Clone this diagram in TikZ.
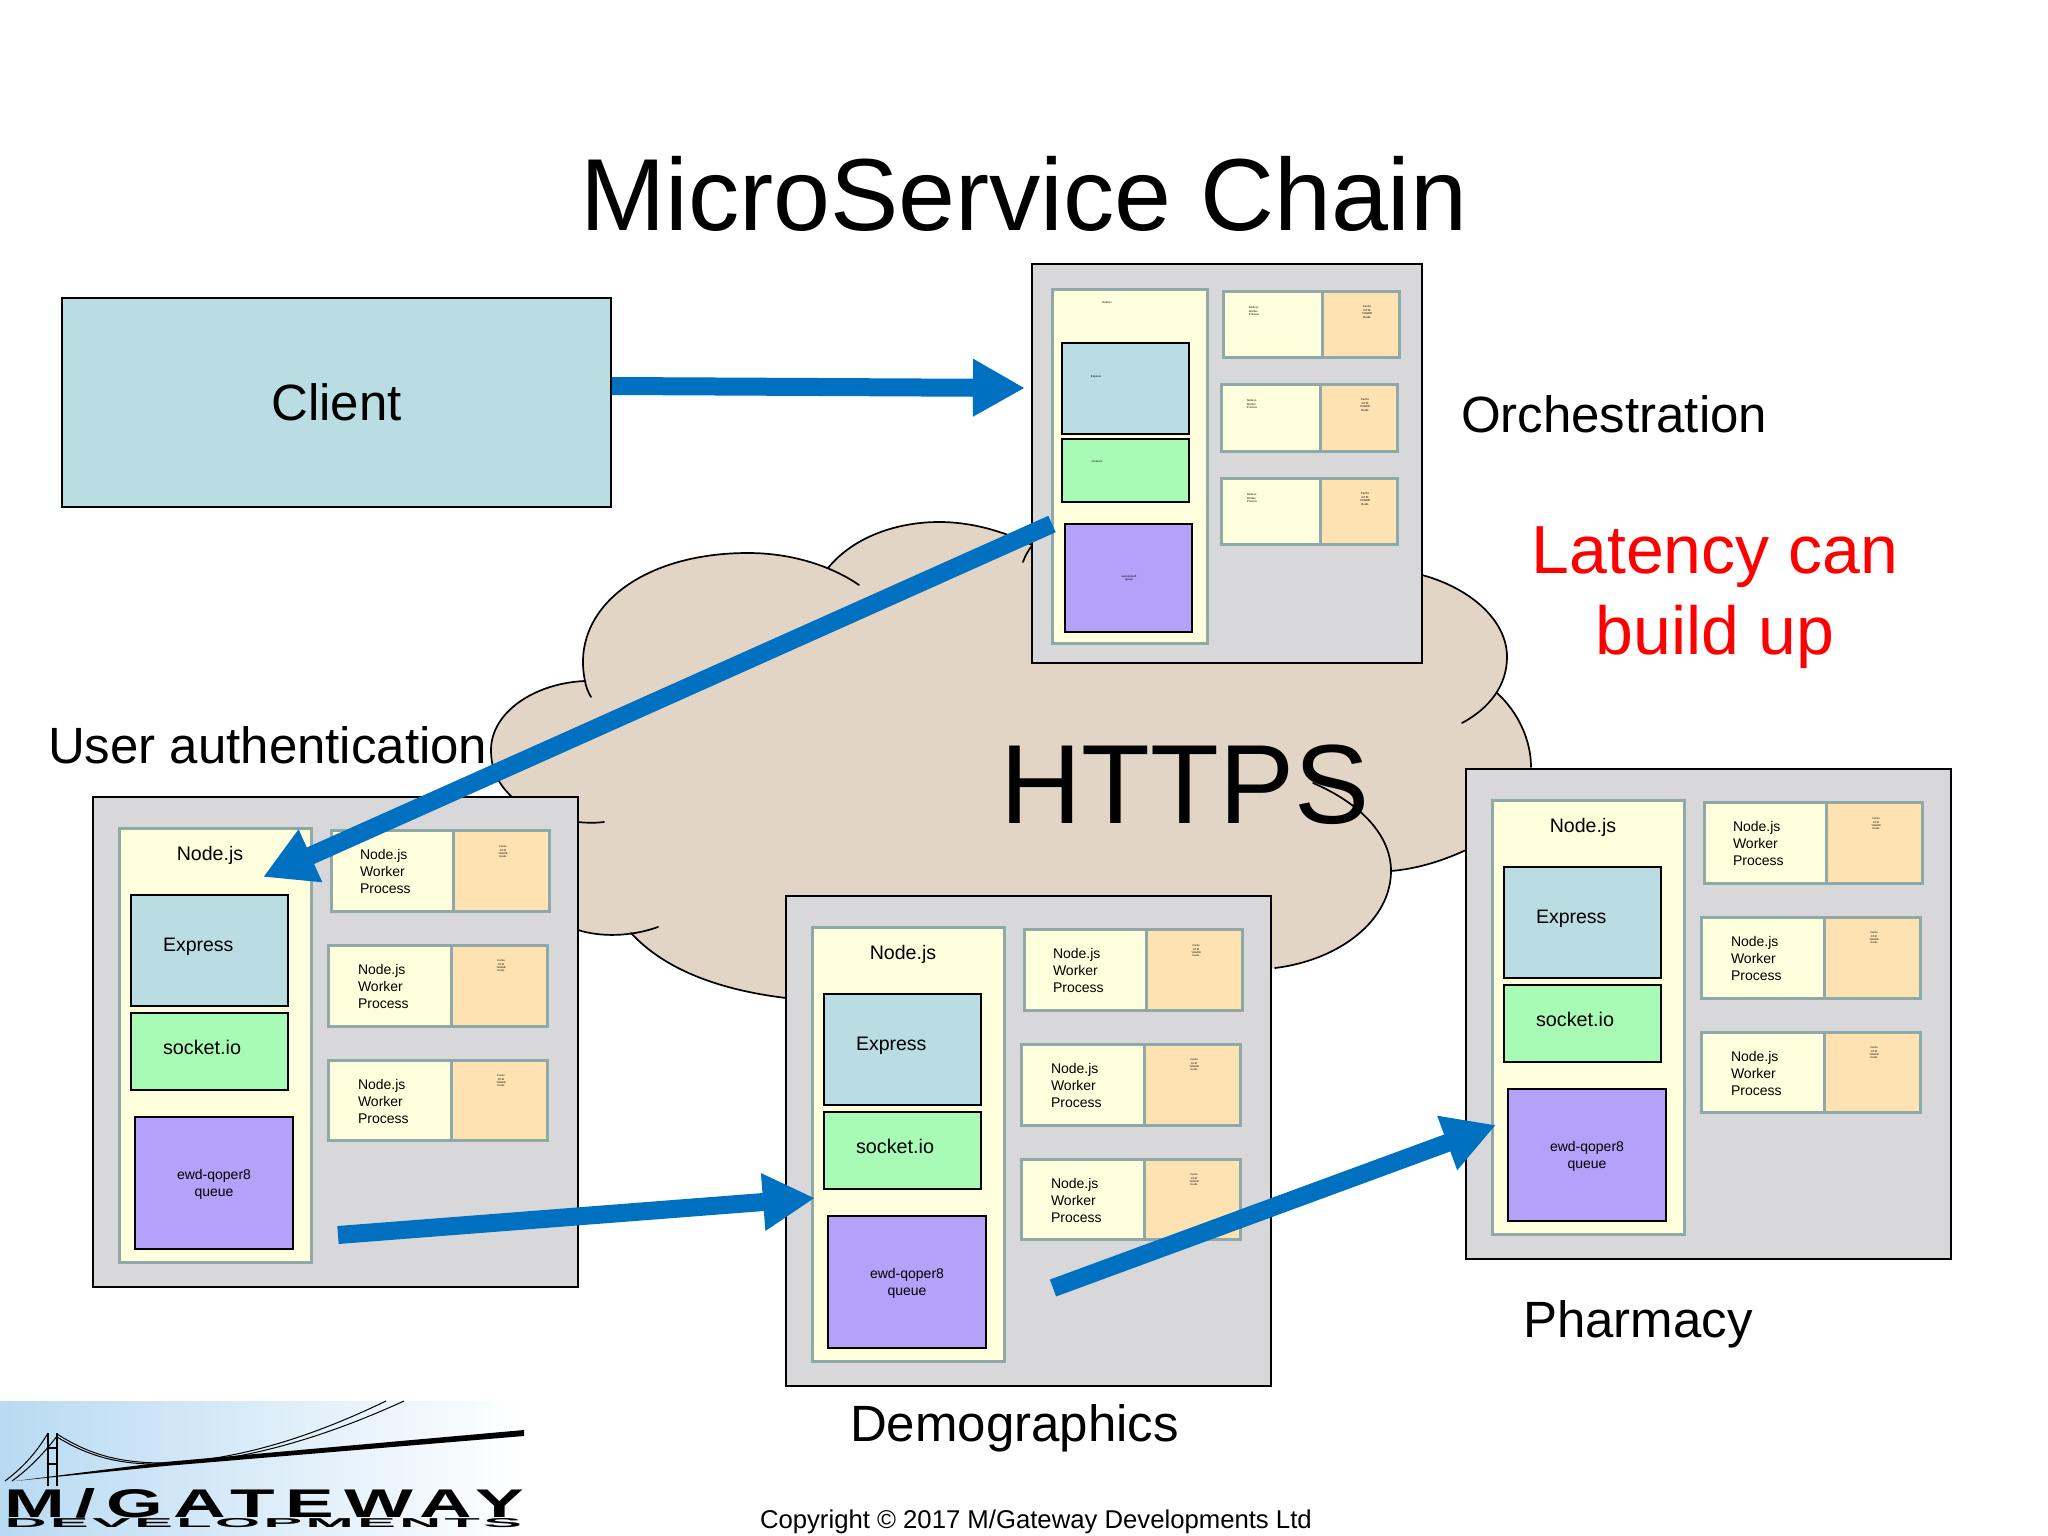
\documentclass[tikz,border=0pt]{standalone}
\usepackage{fontspec}
\usepackage{graphicx}
\setmainfont{Liberation Sans}
\newfontfamily\logofont[LetterSpace=14]{Liberation Sans Bold}
\newfontfamily\logofontb[LetterSpace=6]{Liberation Sans Bold}
\usetikzlibrary{arrows.meta}
\definecolor{panelc}{HTML}{D8D8DA}
\definecolor{mainc}{HTML}{FFFFDD}
\definecolor{edgec}{HTML}{8FA8A8}
\definecolor{expc}{HTML}{B9DDE2}
\definecolor{sockc}{HTML}{A8FBB5}
\definecolor{queuec}{HTML}{B5A0FA}
\definecolor{cachec}{HTML}{FFE2B2}
\definecolor{flowc}{HTML}{0070C0}
\definecolor{cloudc}{HTML}{E3D5C6}
\definecolor{logoc}{HTML}{B8DAF2}
\newcommand{\fz}[2]{\fontsize{#1}{#2}\selectfont}
\newcommand{\bxn}[6]{\node[#2,anchor=north west,minimum width={(#5-#3)*1pt},minimum height={(#6-#4)*1pt}] (#1) at (#3,#4) {};}
\newcommand{\txn}[5]{\node[txt,#2] (#1) at (#3,#4) {#5};}
\newcommand{\panel}[3]{%
\begin{scope}[shift={(#2,#3)}]
\bxn{#1bg}{panelbox}{0}{0}{485}{490}
\bxn{#1main}{softbox,fill=mainc}{26}{31}{218}{465}
\bxn{#1exp}{hardbox,fill=expc}{38}{98}{195}{209}
\bxn{#1sock}{hardbox,fill=sockc}{38}{216}{195}{293}
\bxn{#1queue}{hardbox,fill=queuec}{42}{320}{200}{452}
\bxn{#1wa}{softbox,fill=mainc}{238}{33}{360}{114}
\bxn{#1ca}{softbox,fill=cachec}{360}{33}{456}{114}
\bxn{#1wb}{softbox,fill=mainc}{235}{148}{358}{229}
\bxn{#1cb}{softbox,fill=cachec}{358}{148}{454}{229}
\bxn{#1wc}{softbox,fill=mainc}{235}{263}{358}{343}
\bxn{#1cc}{softbox,fill=cachec}{358}{263}{454}{343}
\txn{#1tm}{font=\fz{19.6}{23}}{117}{58}{Node.js}
\txn{#1te}{anchor=west,font=\fz{19.5}{23}}{70}{150}{Express}
\txn{#1ts}{anchor=west,font=\fz{19.8}{23}}{70}{250}{socket.io}
\txn{#1tq}{font=\fz{14}{17}}{121}{387}{ewd-qoper8\\queue}
\txn{#1twa}{anchor=west,align=left,font=\fz{14}{17}}{267}{74}{Node.js\\Worker\\Process}
\txn{#1twb}{anchor=west,align=left,font=\fz{14}{17}}{265}{189}{Node.js\\Worker\\Process}
\txn{#1twc}{anchor=west,align=left,font=\fz{14}{17}}{265}{304}{Node.js\\Worker\\Process}
\txn{#1tca}{font=\fz{2.6}{3.3}}{410}{55}{Cache\\GT.M\\YottaDB\\Redis}
\txn{#1tcb}{font=\fz{2.6}{3.3}}{408}{169}{Cache\\GT.M\\YottaDB\\Redis}
\txn{#1tcc}{font=\fz{2.6}{3.3}}{408}{284}{Cache\\GT.M\\YottaDB\\Redis}
\end{scope}}
\tikzset{
 txt/.style={inner sep=0pt,outer sep=0pt,align=center,text=black},
 panelbox/.style={draw=black,line width=2pt,fill=panelc,inner sep=0pt,outer sep=0pt},
 softbox/.style={draw=edgec,line width=3pt,inner sep=0pt,outer sep=0pt},
 hardbox/.style={draw=black,line width=2.2pt,inner sep=0pt,outer sep=0pt},
 cloudline/.style={draw=black,line width=1.7pt,line cap=round},
 flow/.style={draw=flowc,line width=18pt,-{Triangle[length=52pt,width=54pt]}}
}
\begin{document}
\begin{tikzpicture}[x=1pt,y=-1pt]
\useasboundingbox (0,0) rectangle (2048,1536);
\fill[white] (0,0) rectangle (2048,1536);
% cloud
\fill[cloudc] (585,681) .. controls (570,610) and (640,553) .. (748,553)
 .. controls (775,553) and (803,558) .. (828,568)
 .. controls (855,535) and (900,522) .. (939,522)
 .. controls (970,522) and (1000,530) .. (1032,545)
 -- (1422,575)
 .. controls (1470,588) and (1507,620) .. (1507,657)
 .. controls (1507,670) and (1504,682) .. (1497,693)
 .. controls (1518,712) and (1531,740) .. (1531,767)
 -- (1466,850)
 .. controls (1440,862) and (1415,869) .. (1391,871)
 .. controls (1391,920) and (1340,960) .. (1275,968)
 -- (786,998)
 .. controls (720,990) and (665,970) .. (631,933)
 .. controls (615,936) and (597,936) .. (578,930)
 -- (512,797)
 .. controls (497,783) and (491,768) .. (491,750)
 .. controls (491,712) and (535,683) .. (585,681) -- cycle;
\draw[cloudline] (591,697) .. controls (588,692) and (586,687) .. (585,681) .. controls (570,610) and (640,553) .. (748,553) .. controls (790,553) and (830,565) .. (859,585);
\draw[cloudline] (828,568) .. controls (855,535) and (900,522) .. (939,522) .. controls (970,522) and (1000,530) .. (1032,545);
\draw[cloudline] (1023,562) .. controls (1025,556) and (1028,551) .. (1031,547);
\draw[cloudline] (1422,575) .. controls (1470,588) and (1507,620) .. (1507,657) .. controls (1507,685) and (1490,708) .. (1462,723);
\draw[cloudline] (1497,693) .. controls (1518,712) and (1531,740) .. (1531,767);
\draw[cloudline] (1466,850) .. controls (1440,862) and (1415,869) .. (1391,871);
\draw[cloudline] (1313,783) .. controls (1360,803) and (1391,835) .. (1391,871) .. controls (1391,920) and (1340,960) .. (1275,968);
\draw[cloudline] (786,998) .. controls (720,990) and (665,970) .. (631,933);
\draw[cloudline] (578,930) .. controls (600,937) and (630,937) .. (658,927);
\draw[cloudline] (512,797) .. controls (497,783) and (491,768) .. (491,750) .. controls (491,712) and (535,683) .. (585,681);
\draw[cloudline] (578,822) .. controls (587,823) and (596,823) .. (604,822);
% client
\node[draw=black,line width=1.7pt,fill=expc,anchor=north west,minimum width=549pt,minimum height=209pt,inner sep=0pt,outer sep=0pt,font=\fz{51}{60}] (client) at (62,298) {Client};
% orchestration panel
\bxn{obg}{panelbox}{1032}{264}{1422}{663}
\bxn{omain}{softbox,fill=mainc}{1052}{289}{1207}{643}
\bxn{oexp}{hardbox,fill=expc}{1062}{343}{1189}{434}
\bxn{osock}{hardbox,fill=sockc}{1062}{439}{1189}{502}
\bxn{oqueue}{hardbox,fill=queuec}{1065}{524}{1192}{632}
\bxn{owa}{softbox,fill=mainc}{1223}{291}{1322}{357}
\bxn{oca}{softbox,fill=cachec}{1322}{291}{1399}{357}
\bxn{owb}{softbox,fill=mainc}{1221}{384}{1320}{451}
\bxn{ocb}{softbox,fill=cachec}{1320}{384}{1397}{451}
\bxn{owc}{softbox,fill=mainc}{1221}{478}{1320}{544}
\bxn{occ}{softbox,fill=cachec}{1320}{478}{1397}{544}
\txn{otm}{font=\fz{2.8}{3.4}}{1107}{303}{Node.js}
\txn{ote}{font=\fz{2.8}{3.4}}{1096}{377}{Express}
\txn{ots}{font=\fz{2.8}{3.4}}{1097}{461}{socket.io}
\txn{otq}{font=\fz{2.8}{3.4}}{1129}{578}{ewd-qoper8\\queue}
\txn{otwa}{align=left,font=\fz{2.8}{3.5}}{1254}{311}{Node.js\\Worker\\Process}
\txn{otwb}{align=left,font=\fz{2.8}{3.5}}{1252}{404}{Node.js\\Worker\\Process}
\txn{otwc}{align=left,font=\fz{2.8}{3.5}}{1252}{498}{Node.js\\Worker\\Process}
\txn{otca}{font=\fz{2.8}{3.4}}{1367}{312}{Cache\\GT.M\\YottaDB\\Redis}
\txn{otcb}{font=\fz{2.8}{3.4}}{1365}{405}{Cache\\GT.M\\YottaDB\\Redis}
\txn{otcc}{font=\fz{2.8}{3.4}}{1365}{499}{Cache\\GT.M\\YottaDB\\Redis}
% service panels
\panel{a}{93}{797}
\panel{d}{786}{896}
\panel{p}{1466}{769}
% labels
\txn{title}{font=\fz{102.4}{120}}{1024}{194}{MicroService Chain}
\txn{https}{font=\fz{112.6}{130}}{1185}{785}{HTTPS}
\txn{lorch}{anchor=west,font=\fz{51}{60}}{1461}{414}{Orchestration}
\txn{llat}{text=red,font=\fz{68}{81}}{1715}{598}{Latency can\\build up}
\txn{lauth}{anchor=west,font=\fz{51}{60}}{48}{745}{User authentication}
\txn{ldemo}{anchor=west,font=\fz{51}{60}}{850}{1428}{Demographics}
\txn{lpharm}{anchor=west,font=\fz{51}{60}}{1523}{1324}{Pharmacy}
\txn{lcopy}{anchor=west,font=\fz{25.7}{30}}{760}{1522}{Copyright © 2017 M/Gateway Developments Ltd}
% logo
\shade[left color=logoc,right color=white] (0,1401) rectangle (525,1536);
\begin{scope}[line width=1pt,draw=black]
\draw (5,1481) .. controls (25,1466) and (38,1450) .. (48,1433);
\draw (12,1481) .. controls (30,1468) and (45,1452) .. (57,1436);
\draw[line width=1.6pt] (48,1433) -- (48,1486) (57,1433) -- (57,1486) (48,1448) -- (57,1448) (48,1464) -- (57,1464);
\draw (57,1434) .. controls (90,1455) and (120,1463) .. (165,1463) .. controls (250,1460) and (330,1428) .. (386,1401);
\draw (57,1437) .. controls (90,1457) and (120,1465) .. (165,1464) .. controls (255,1462) and (345,1428) .. (404,1401);
\end{scope}
\fill[black] (15,1481) -- (165,1462) -- (524,1430) -- (524,1436) -- (165,1466) -- cycle;
\node[txt,anchor=north west] (logoa) at (5,1488) {\resizebox{519pt}{29pt}{\logofont M/GATEWAY}};
\node[txt,anchor=north west] (logob) at (5,1518) {\resizebox{517pt}{9pt}{\logofontb DEVELOPMENTS}};
% connectors
\coordinate (tipa) at (1025,388);
\coordinate (starta) at (612,386);
\coordinate (startb) at (1052,524);
\coordinate (tipb) at (263,877);
\coordinate (startc) at (338,1235);
\coordinate (tipc) at (815,1198);
\coordinate (startd) at (1053,1288);
\coordinate (tipd) at (1496,1125);
\draw[flow] (starta) -- (tipa);
\draw[flow] (startb) -- (tipb);
\draw[flow] (startc) -- (tipc);
\draw[flow] (startd) -- (tipd);
\end{tikzpicture}
\end{document}
